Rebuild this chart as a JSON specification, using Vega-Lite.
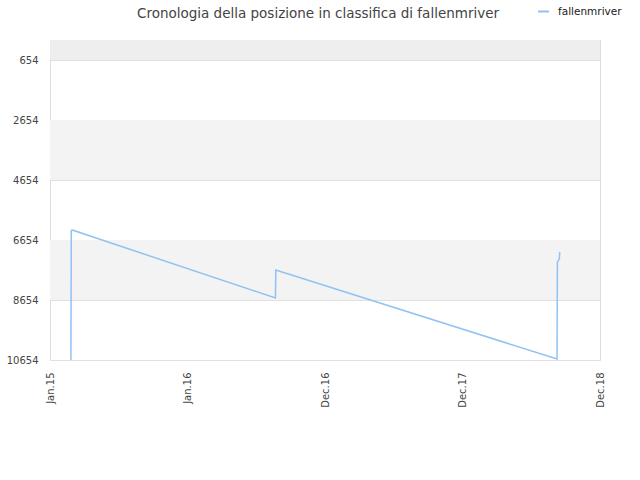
{
  "$schema": "https://vega.github.io/schema/vega-lite/v6.json",
  "autosize": "none",
  "width": 550,
  "height": 320,
  "padding": {"left": 50, "top": 40, "right": 40, "bottom": 120},
  "background": "white",
  "config": {
    "font": "DejaVu Sans",
    "view": {"stroke": "#dddddd", "strokeWidth": 1},
    "axis": {
      "labelFont": "DejaVu Sans",
      "labelFontSize": 10,
      "labelColor": "#444444",
      "ticks": false,
      "domain": false,
      "title": null
    }
  },
  "title": {
    "text": "Cronologia della posizione in classifica di fallenmriver",
    "fontSize": 13.5,
    "fontWeight": "normal",
    "color": "#444444",
    "anchor": "middle",
    "dx": -7,
    "offset": -15
  },
  "layer": [
    {
      "data": {
        "values": [
          {"from": -13, "to": 654, "fill": "#eeeeee"},
          {"from": 2654, "to": 4654, "fill": "#f3f3f3"},
          {"from": 6654, "to": 8654, "fill": "#f3f3f3"}
        ]
      },
      "mark": {"type": "rect"},
      "encoding": {
        "y": {"field": "from", "type": "quantitative", "scale": {"domain": [-13, 10654], "reverse": true, "nice": false, "zero": false}},
        "y2": {"field": "to"},
        "fill": {"field": "fill", "type": "nominal", "scale": null}
      }
    },
    {
      "data": {
        "values": [
          {"date": "2015-03-15", "rank": 10654, "name": "fallenmriver"},
          {"date": "2015-03-16", "rank": 6354, "name": "fallenmriver"},
          {"date": "2015-03-18", "rank": 6320, "name": "fallenmriver"},
          {"date": "2016-08-24", "rank": 8587, "name": "fallenmriver"},
          {"date": "2016-08-25", "rank": 7654, "name": "fallenmriver"},
          {"date": "2018-08-21", "rank": 10620, "name": "fallenmriver"},
          {"date": "2018-08-22", "rank": 7387, "name": "fallenmriver"},
          {"date": "2018-08-27", "rank": 7290, "name": "fallenmriver"},
          {"date": "2018-08-28", "rank": 7054, "name": "fallenmriver"}
        ]
      },
      "mark": {"type": "line", "strokeWidth": 1.5, "clip": true},
      "encoding": {
        "x": {
          "field": "date",
          "type": "temporal",
          "scale": {"domain": ["2015-01-20", "2018-12-10"], "nice": false},
          "axis": {
            "values": ["2015-01-20", "2016-01-10", "2016-12-30", "2017-12-20", "2018-12-10"],
            "format": "%b.%y",
            "labelAngle": 270,
            "labelAlign": "right",
            "labelBaseline": "middle",
            "labelPadding": 12,
            "grid": false
          }
        },
        "y": {
          "field": "rank",
          "type": "quantitative",
          "scale": {"domain": [-13, 10654], "reverse": true, "nice": false, "zero": false},
          "axis": {
            "values": [654, 2654, 4654, 6654, 8654, 10654],
            "format": "d",
            "grid": true,
            "gridColor": "#e0e0e0",
            "labelPadding": 12
          }
        },
        "color": {
          "field": "name",
          "type": "nominal",
          "scale": {"range": ["#90c2f3"]},
          "legend": {
            "title": null,
            "orient": "none",
            "legendX": 487,
            "legendY": -35,
            "symbolType": "stroke",
            "symbolStrokeWidth": 2,
            "symbolSize": 120,
            "labelOffset": 8,
            "labelFont": "DejaVu Sans",
            "labelFontSize": 10.5,
            "labelColor": "#222222"
          }
        }
      }
    }
  ]
}
